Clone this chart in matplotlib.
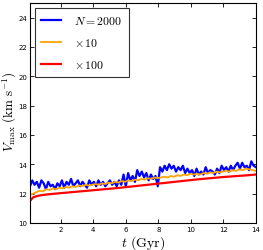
import matplotlib
matplotlib.use("Agg")
import matplotlib.pyplot as plt
import numpy as np

# N = 2000 run (noisy)
t_blue = np.linspace(0.1, 14.0, 100)
v_blue = [12.5, 12.9, 12.6, 12.8, 12.4, 12.9, 12.7, 12.3, 12.8, 12.5,
          12.6, 12.3, 12.7, 12.5, 12.9, 12.4, 12.8, 12.6, 13.0, 12.5,
          12.7, 12.9, 12.5, 12.8, 12.6, 12.4, 12.9, 12.6, 12.8, 12.5,
          12.9, 12.6, 12.8, 12.5, 12.7, 12.9, 12.6, 12.8, 12.5, 12.9,
          12.6, 13.3, 12.5, 13.4, 12.9, 13.2, 12.8, 13.6, 13.2, 13.5,
          13.1, 13.4, 12.9, 13.3, 13.0, 13.2, 12.5, 13.8, 13.5, 13.9,
          13.6, 14.0, 13.7, 13.9, 13.5, 13.8, 13.6, 13.9, 13.4, 13.7,
          13.4, 13.6, 13.2, 13.7, 13.3, 13.5, 13.3, 13.8, 13.4, 13.6,
          13.5, 13.3, 13.7, 13.4, 13.9, 13.6, 13.8, 13.5, 13.9, 13.6,
          13.9, 14.1, 13.7, 14.1, 13.8, 13.9, 13.6, 14.2, 13.9, 13.8]

# x10 run
t_orange = np.linspace(0.1, 14.0, 70)
v_orange = [11.9, 12.0, 12.1, 12.2, 12.15, 12.3, 12.25, 12.35, 12.3, 12.4,
            12.35, 12.45, 12.4, 12.5, 12.45, 12.55, 12.5, 12.6, 12.55, 12.6,
            12.65, 12.6, 12.7, 12.65, 12.75, 12.7, 12.8, 12.75, 12.85, 12.8,
            12.9, 12.85, 12.95, 12.9, 13.0, 12.95, 13.05, 13.0, 13.1, 13.05,
            13.1, 13.15, 13.1, 13.2, 13.15, 13.25, 13.2, 13.3, 13.25, 13.35,
            13.3, 13.35, 13.3, 13.4, 13.35, 13.45, 13.4, 13.5, 13.45, 13.5,
            13.55, 13.5, 13.6, 13.55, 13.65, 13.6, 13.7, 13.65, 13.6, 13.55]

# x100 run
t_red = [0.1, 0.3, 0.6, 1.0, 1.5, 2.0, 2.5, 3.0, 3.5, 4.0, 4.5, 5.0, 5.5, 6.0, 6.5,
         7.0, 7.5, 8.0, 8.5, 9.0, 9.5, 10.0, 10.5, 11.0, 11.5, 12.0, 12.5, 13.0, 13.5, 14.0]
v_red = [11.5, 11.75, 11.85, 11.92, 11.98, 12.03, 12.08, 12.13, 12.18, 12.23,
         12.28, 12.33, 12.38, 12.44, 12.5, 12.56, 12.62, 12.68, 12.74, 12.8,
         12.86, 12.92, 12.98, 13.03, 13.08, 13.13, 13.17, 13.21, 13.25, 13.3]

labels = [r"$N = 2000$", r"$\times\,10$", r"$\times\,100$"]

plt.rcParams['mathtext.fontset'] = 'cm'

fig = plt.figure(figsize=(2.63, 2.51), dpi=100)
ax = fig.add_axes([0.114, 0.108, 0.859, 0.876])

ax.plot(t_blue, v_blue, color="#0000ff", lw=1.6, label=labels[0])
ax.plot(t_orange, v_orange, color="orange", lw=1.3, label=labels[1])
ax.plot(t_red, v_red, color="red", lw=1.6, label=labels[2])

ax.set_xlim(0.1, 14)
ax.set_ylim(10, 25)
ax.set_xticks([2, 4, 6, 8, 10, 12, 14])
ax.set_yticks([10, 12, 14, 16, 18, 20, 22, 24])
ax.tick_params(direction="in", top=True, right=True, labelsize=5, length=3, width=0.6, pad=2)
for sp in ax.spines.values():
    sp.set_linewidth(0.8)

ax.set_xlabel(r"$t\ \mathrm{(Gyr)}$", fontsize=10, labelpad=1)
ax.set_ylabel(r"$V_{\rm max}\ \mathrm{(km\ s^{-1})}$", fontsize=9.5)
ax.yaxis.set_label_coords(-0.05, 0.51)

leg = ax.legend(loc="upper left", fontsize=8.5, handlelength=1.7, handletextpad=1.1,
                fancybox=False, edgecolor="black", borderpad=0.55, labelspacing=0.75,
                borderaxespad=0.4)
leg.get_frame().set_linewidth(0.8)

fig.savefig("out.png", dpi=100)
